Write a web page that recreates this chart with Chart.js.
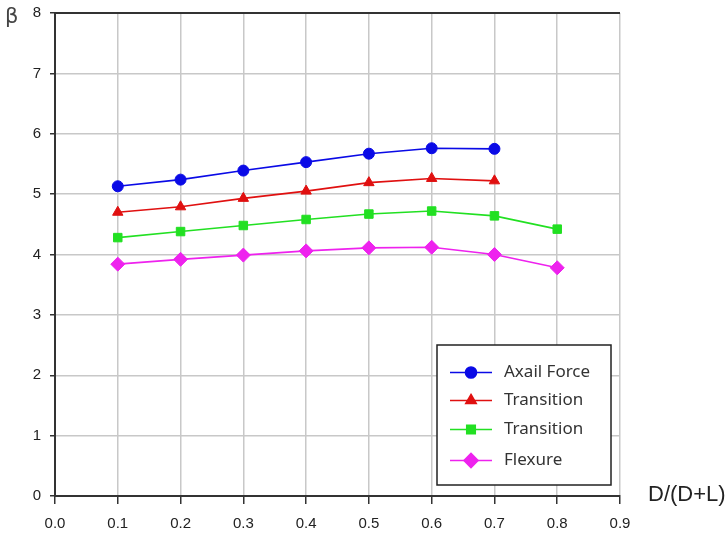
<!DOCTYPE html>
<html><head><meta charset="utf-8">
<script src="https://cdn.jsdelivr.net/npm/chart.js@4"></script>
<style>html,body{margin:0;padding:0;background:#fff}#wrap{width:728px;height:535px;position:relative}</style>
</head><body><div id="wrap"><canvas id="c" width="728" height="535"></canvas></div>
<script>
const xValues = [0.1, 0.2, 0.3, 0.4, 0.5, 0.6, 0.7, 0.8];
const axialForce = [5.13, 5.24, 5.39, 5.53, 5.67, 5.76, 5.75];
const transitionA = [4.70, 4.79, 4.93, 5.05, 5.19, 5.26, 5.22];
const transitionB = [4.28, 4.38, 4.48, 4.58, 4.67, 4.72, 4.64, 4.42];
const flexure = [3.84, 3.92, 3.99, 4.06, 4.11, 4.12, 4.00, 3.78];
const seriesNames = ['Axail Force', 'Transition', 'Transition', 'Flexure'];
const xTitle = 'D/(D+L)';
const yTitle = 'β';

const pts = arr => arr.map((v, i) => ({x: xValues[i], y: v}));
const styles = [
  {c:'#0a0ae6', p:'circle', r:5.5},
  {c:'#e01010', p:'triangle', r:6},
  {c:'#22e022', p:'rect', r:6},
  {c:'#ee22ee', p:'rectRot', r:7}
];
const allData = [axialForce, transitionA, transitionB, flexure];
const datasets = allData.map((d, i) => ({
  label: seriesNames[i], data: pts(d),
  borderColor: styles[i].c, backgroundColor: styles[i].c,
  pointStyle: styles[i].p, pointRadius: styles[i].r, pointHoverRadius: styles[i].r,
  borderWidth: 1.6, pointBorderWidth: 1, tension: 0
}));

const extras = {
  id: 'extras',
  afterDraw(chart) {
    const ctx = chart.ctx, a = chart.chartArea;
    ctx.save();
    // top border
    ctx.strokeStyle = '#333'; ctx.lineWidth = 2;
    ctx.beginPath(); ctx.moveTo(a.left, a.top); ctx.lineTo(a.right, a.top); ctx.stroke();
    // titles
    ctx.fillStyle = '#222';
    ctx.font = '22px "Liberation Sans", Arial, sans-serif';
    ctx.textBaseline = 'middle'; ctx.textAlign = 'left';
    ctx.fillText(xTitle, 648, 495);
    ctx.fillStyle = '#444';
    ctx.font = '21px "DejaVu Sans", sans-serif';
    ctx.fillText(yTitle, 5, 18);
    // legend
    const bx = 437, by = 345, bw = 174, bh = 140;
    ctx.fillStyle = '#fff'; ctx.fillRect(bx, by, bw, bh);
    ctx.strokeStyle = '#222'; ctx.lineWidth = 1.5; ctx.strokeRect(bx, by, bw, bh);
    const rows = [372.5, 400.5, 429.5, 460.5];
    chart.data.datasets.forEach((ds, i) => {
      const y = rows[i];
      ctx.strokeStyle = ds.borderColor; ctx.lineWidth = 1.6;
      ctx.beginPath(); ctx.moveTo(450, y); ctx.lineTo(492, y); ctx.stroke();
      ctx.fillStyle = ds.backgroundColor; ctx.strokeStyle = ds.borderColor;
      Chart.helpers.drawPoint(ctx, {pointStyle: ds.pointStyle, radius: ds.pointRadius, borderWidth: 1}, 471, y);
      ctx.fillStyle = '#333';
      ctx.font = '17px "Noto Sans", sans-serif';
      ctx.textAlign = 'left'; ctx.textBaseline = 'middle';
      ctx.fillText(ds.label, 504, y);
    });
    ctx.restore();
  }
};

new Chart(document.getElementById('c'), {
  type: 'line',
  data: { datasets },
  options: {
    responsive: false, animation: false,
    layout: { padding: { top: 13, right: 108, left: 0, bottom: 0 } },
    plugins: { legend: { display: false }, tooltip: { enabled: false } },
    scales: {
      x: {
        type: 'linear', min: 0, max: 0.9,
        ticks: { stepSize: 0.1, color: '#222', padding: 11,
          font: { size: 15, family: '"Liberation Sans", Arial, sans-serif' },
          callback: v => Number(v).toFixed(1) },
        grid: { color: '#c8c8c8', lineWidth: 1.5, tickLength: 8, tickColor: '#333' },
        border: { color: '#333', width: 2 },
        afterFit: s => { s.height = 39; }
      },
      y: {
        min: 0, max: 8,
        ticks: { stepSize: 1, color: '#222', padding: 9,
          font: { size: 15, family: '"Liberation Sans", Arial, sans-serif' } },
        grid: { color: '#c8c8c8', lineWidth: 1.5, tickLength: 5, tickColor: '#333' },
        border: { color: '#333', width: 2 },
        afterFit: s => { s.width = 55; s.paddingTop = 0; s.paddingBottom = 0; }
      }
    }
  },
  plugins: [extras]
});
</script></body></html>
